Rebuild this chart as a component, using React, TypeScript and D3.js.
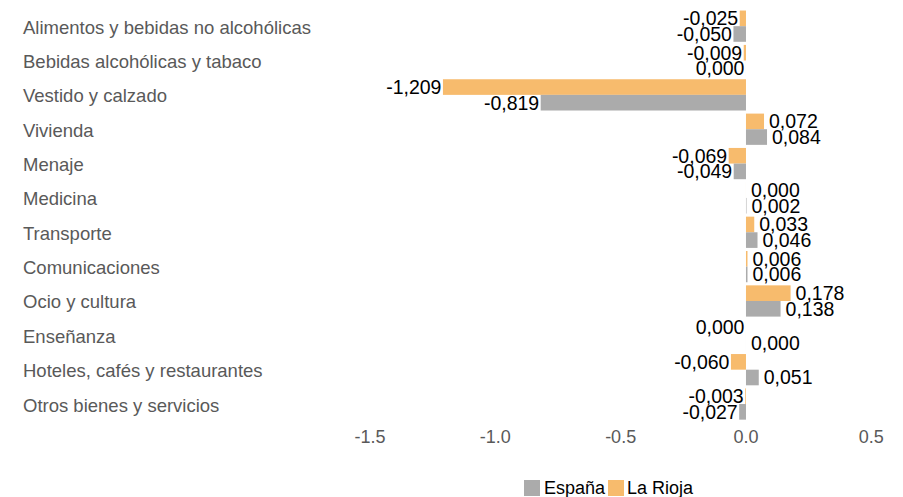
import React from "react";
import * as d3 from "d3";

const categories = [
  "Alimentos y bebidas no alcohólicas",
  "Bebidas alcohólicas y tabaco",
  "Vestido y calzado",
  "Vivienda",
  "Menaje",
  "Medicina",
  "Transporte",
  "Comunicaciones",
  "Ocio y cultura",
  "Enseñanza",
  "Hoteles, cafés y restaurantes",
  "Otros bienes y servicios",
];

// La Rioja (upper bar), España (lower bar)
const rioja = [-0.025, -0.009, -1.209, 0.072, -0.069, 0.0001, 0.033, 0.006, 0.178, -0.0001, -0.06, -0.003];
const espana = [-0.05, -0.0001, -0.819, 0.084, -0.049, 0.002, 0.046, 0.006, 0.138, 0.0001, 0.051, -0.027];

const xTicks = [-1.5, -1.0, -0.5, 0.0, 0.5];

const seriesNames = ["La Rioja", "España"];
const seriesColors = ["#F7BB6D", "#ABABAB"];

const W = 903;
const H = 497;
const FONT = "'Liberation Sans', Arial, sans-serif";

const locale = d3.formatLocale({ decimal: ",", thousands: ".", grouping: [3], currency: ["", "€"], minus: "-" });
const fmtVal = locale.format(".3f");
const fmtTick = d3.formatLocale({ decimal: ".", thousands: ",", grouping: [3], currency: ["$", ""], minus: "-" }).format(".1f");

export default function App() {
  const x = d3.scaleLinear().domain([-1.5, 0.5]).range([370, 871.3]);
  const y = d3.scaleBand<string>().domain(categories).range([9, 421.2]).paddingInner(0.09).paddingOuter(0.045);
  const sub = d3.scaleBand<string>().domain(seriesNames).range([0, y.bandwidth()]);
  const series = [rioja, espana];

  return (
    <svg width={W} height={H} style={{ position: "absolute", left: 0, top: 0, background: "#fff" }} fontFamily={FONT}>
      {categories.map((c) => (
        <text key={c} x={23} y={(y(c) as number) + y.bandwidth() / 2 + 1} dy="0.35em" fontSize={18.5} fill="#595959">
          {c}
        </text>
      ))}
      {series.map((vals, si) =>
        vals.map((v, i) => {
          const c = categories[i];
          const by = (y(c) as number) + (sub(seriesNames[si]) as number);
          const bh = sub.bandwidth();
          const x0 = x(0);
          const x1 = x(v);
          return (
            <g key={si + "-" + i}>
              <rect x={Math.min(x0, x1)} y={by} width={Math.abs(x1 - x0)} height={bh} fill={seriesColors[si]} />
              <text
                x={v < 0 ? x1 - 1.5 : x1 + 5}
                y={by + bh / 2}
                dy="0.35em"
                textAnchor={v < 0 ? "end" : "start"}
                fontSize={19.5}
                fill="#000"
              >
                {fmtVal(v)}
              </text>
            </g>
          );
        })
      )}
      {xTicks.map((t) => (
        <text key={t} x={x(t)} y={437} dy="0.35em" textAnchor="middle" fontSize={18} fill="#595959">
          {fmtTick(t)}
        </text>
      ))}
      <g>
        <rect x={524} y={480} width={16} height={16} fill={seriesColors[1]} />
        <text x={544} y={488} dy="0.35em" fontSize={18} fill="#000">España</text>
        <rect x={608} y={480} width={16} height={16} fill={seriesColors[0]} />
        <text x={627} y={488} dy="0.35em" fontSize={18} fill="#000">La Rioja</text>
      </g>
    </svg>
  );
}
